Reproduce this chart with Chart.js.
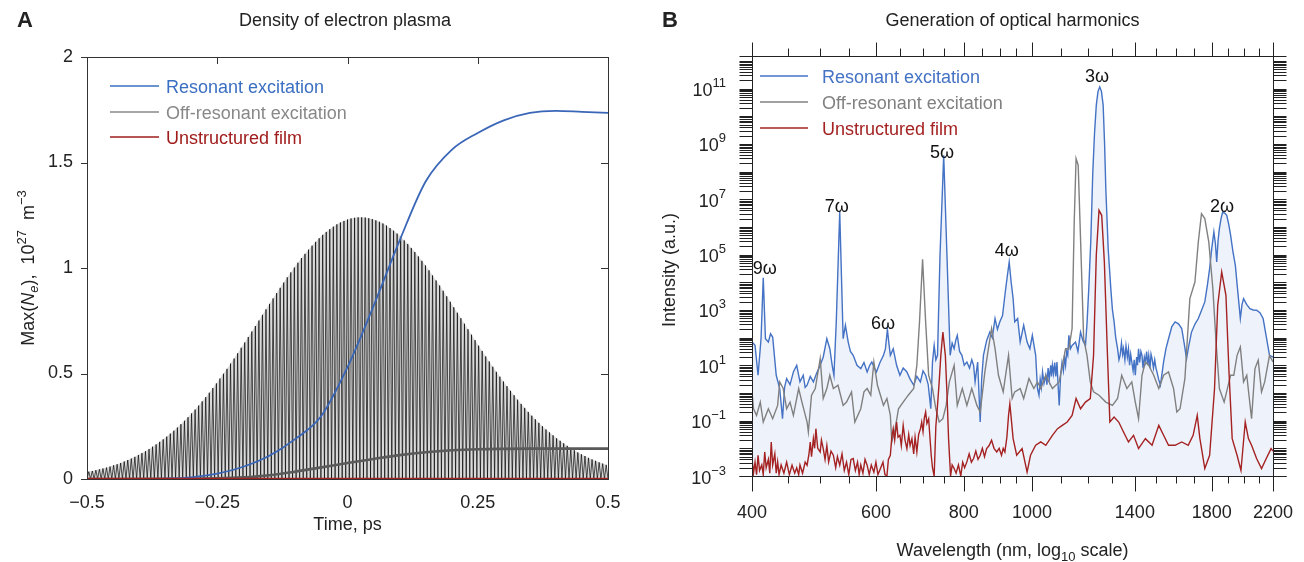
<!DOCTYPE html>
<html><head><meta charset="utf-8">
<script src="https://cdn.jsdelivr.net/npm/chart.js@4.4.0/dist/chart.umd.min.js"></script>
<style>
html,body{margin:0;padding:0;background:#fff;width:1304px;height:562px;overflow:hidden}
#wa{position:absolute;left:0;top:0;width:650px;height:562px}
#wb{position:absolute;left:650px;top:0;width:654px;height:562px}
</style></head><body>
<div id="wa"><canvas id="ca"></canvas></div>
<div id="wb"><canvas id="cb"></canvas></div>
<script>
// ---------------- Panel A data (time in ps, density in 1e27 m^-3) ----------------
const resonantT = [-0.5,-0.4,-0.35,-0.3,-0.25,-0.2,-0.15,-0.1,-0.05,0,0.05,0.1,0.15,0.2,0.25,0.3,0.35,0.4,0.45,0.5];
const resonantN = [0,0,0.002,0.008,0.025,0.058,0.11,0.19,0.3,0.53,0.82,1.13,1.41,1.56,1.64,1.7,1.735,1.745,1.74,1.735];
const offResT = [-0.5,-0.3,-0.25,-0.2,-0.15,-0.1,-0.05,0,0.05,0.1,0.15,0.2,0.25,0.3,0.35,0.5];
const offResN = [0,0.001,0.003,0.008,0.018,0.035,0.055,0.076,0.095,0.113,0.127,0.136,0.141,0.143,0.144,0.144];
const filmT = [-0.5,0.5];
const filmN = [0,0];
// laser-pulse oscillation: height of each of the 147 peaks between -0.5 and 0.5 ps
const pulseRange = [-0.5, 0.5];
const pulsePeaks = [0.035,0.038,0.042,0.046,0.050,0.054,0.059,0.065,0.070,0.076,
0.083,0.090,0.097,0.105,0.114,0.123,0.132,0.142,0.153,0.164,
0.176,0.188,0.201,0.215,0.229,0.244,0.260,0.276,0.293,0.311,
0.329,0.348,0.368,0.388,0.409,0.431,0.453,0.476,0.499,0.522,
0.547,0.571,0.596,0.622,0.647,0.673,0.699,0.725,0.751,0.778,
0.804,0.830,0.856,0.881,0.906,0.931,0.956,0.979,1.002,1.025,
1.047,1.067,1.087,1.106,1.124,1.141,1.157,1.171,1.184,1.196,
1.207,1.216,1.223,1.230,1.235,1.238,1.240,1.240,1.239,1.236,
1.232,1.226,1.219,1.211,1.201,1.189,1.177,1.163,1.148,1.131,
1.114,1.095,1.076,1.055,1.034,1.012,0.989,0.965,0.941,0.917,
0.892,0.866,0.840,0.814,0.788,0.762,0.736,0.710,0.684,0.658,
0.632,0.607,0.581,0.557,0.532,0.508,0.485,0.462,0.440,0.418,
0.397,0.376,0.356,0.337,0.318,0.300,0.283,0.266,0.250,0.235,
0.221,0.207,0.193,0.181,0.169,0.157,0.146,0.136,0.126,0.117,
0.109,0.100,0.093,0.086,0.079,0.073,0.067];
const timeTicks = [-0.5,-0.25,0,0.25,0.5];
const densityTicks = [0,0.5,1,1.5,2];

// ---------------- Panel B data (wavelength nm, log10 of intensity a.u.) ----------------
const resonantWl = [400,404,408,412,415,418,422,425,428,433,438,442,445,448,453,458,463,468,473,476,
479,484,489,494,500,505,511,516,520,523,527,533,539,543,548,552,557,564,571,577,
583,588,592,597,601,608,615,619,623,626,629,635,642,649,656,664,671,679,686,694,
700,706,712,718,722,726,730,734,740,749,757,765,770,775,779,783,789,795,801,808,
815,821,826,830,837,844,848,853,862,871,878,886,893,900,908,915,922,928,934,940,
945,954,962,973,984,993,1001,1012,1018,1023,1027,1031,1035,1040,1046,1050,1054,1058,1063,1066,
1069,1073,1077,1081,1085,1089,1093,1098,1103,1108,1112,1116,1120,1124,1128,1134,1140,1153,1162,1172,
1181,1191,1197,1204,1212,1220,1227,1234,1241,1248,1255,1262,1268,1273,1283,1294,1301,1308,1315,1323,
1329,1334,1340,1345,1349,1355,1360,1366,1371,1376,1381,1386,1392,1397,1402,1408,1412,1417,1422,1428,
1433,1438,1444,1449,1455,1460,1465,1471,1476,1481,1488,1494,1500,1505,1513,1522,1530,1538,1550,1563,
1580,1597,1615,1632,1645,1658,1670,1685,1705,1723,1742,1760,1775,1788,1800,1813,1822,1830,1838,1846,
1856,1866,1878,1891,1903,1915,1930,1945,1960,1977,1988,1998,2018,2040,2062,2085,2108,2130,2150,2175,2200];
const resonantLog = [1.84,1.72,0.64,1.96,4.16,1.96,1.84,2.14,2.02,0.64,0.16,-0.93,0.2,0.52,0.3,0.76,1.0,0.4,0.64,0.2,
0.28,0.6,0.4,0.7,1.0,1.3,1.96,1.6,1.0,0.64,2.57,6.54,1.96,2.45,1.84,1.5,1.36,1.0,0.88,1.1,
0.76,1.0,1.12,0.9,0.76,1.1,1.36,1.6,2.3,1.8,1.36,1.6,1.0,0.64,0.9,0.76,0.5,0.28,0.6,0.4,
0.8,0.64,0.3,-0.57,1.12,1.72,1.2,1.36,4.98,8.59,4.98,1.36,1.8,1.6,1.9,2.08,1.5,1.36,1.0,1.12,
0.9,1.2,1.0,0.4,1.12,-1.05,0.5,1.36,1.9,2.2,2.0,2.69,2.3,2.57,2.8,3.53,4.2,4.73,4.0,3.41,
2.57,2.69,1.84,2.45,1.84,1.6,2.08,1.36,0.16,-0.08,0.5,0.2,0.76,0.35,0.64,0.3,0.9,0.5,1.0,0.6,
1.0,0.7,1.1,0.6,1.12,0.3,-0.45,0.64,1.1,0.8,1.3,1.0,1.5,1.36,2.08,1.6,1.72,1.84,1.5,2.2,
1.9,1.72,2.5,3.77,5.5,7.99,9.4,10.4,10.9,11.06,10.9,10.4,9.0,7.39,5.2,3.77,3.0,2.57,2.0,1.6,
1.2,1.36,1.8,1.4,1.6,1.2,1.7,1.3,1.6,1.0,1.4,1.12,0.8,1.2,0.64,1.3,1.0,1.6,1.1,1.5,
1.36,0.9,1.3,1.12,1.5,1.0,1.36,0.9,1.4,1.24,0.9,1.2,0.9,0.76,0.5,0.28,0.7,1.12,1.6,1.96,
2.4,2.57,2.5,2.33,1.8,1.24,1.7,2.2,2.5,2.69,3.0,3.29,3.9,4.49,5.2,5.82,5.4,4.73,5.5,5.94,
6.3,6.54,6.5,6.42,6.1,5.7,5.1,4.61,3.7,2.69,3.2,3.41,3.2,3.05,3.0,2.99,2.9,2.69,2.1,1.36,1.3];
const offResWl = [400,402,406,411,415,422,428,435,438,443,448,453,458,466,471,479,481,486,492,500,
505,511,516,522,530,539,545,554,560,571,577,583,590,596,603,609,615,622,629,632,
639,646,656,667,679,686,692,699,706,713,722,730,738,747,755,763,775,783,796,808,
821,835,844,857,867,876,886,896,910,920,
926,937,945,962,973,990,1006,1018,1029,1046,1069,1093,1116,1128,1140,1148,1155,1163,1172,1184,
1197,1210,1223,1245,1273,1301,1323,1341,1364,1386,1402,1417,1433,1449,1465,1489,1514,1538,1563,1589,
1606,1623,1649,1676,1704,1723,1741,1760,1783,1807,1826,1846,1875,1895,1915,1935,1956,1977,1998,2019,
2051,2074,2096,2119,2141,2175,2200];
const offResLog = [0.04,-0.57,-0.81,-0.33,-1.05,-0.57,-0.93,-0.45,0.4,0.16,-0.57,-0.33,-0.81,0.16,-0.33,-1.05,-1.41,-0.08,0.16,1.24,
-0.2,0.16,0.64,0.16,0.28,-0.45,-0.33,0.04,-1.05,-0.57,0.04,0.16,-0.08,1.12,0.28,-0.08,-0.45,-0.2,-0.81,-1.77,
-1.29,-0.57,-0.33,-0.08,0.16,1.0,2.57,4.83,2.57,0.64,0.16,-0.57,-1.05,-0.93,-0.45,0.4,1.0,-0.45,0.16,-0.45,
0.16,-0.45,-0.69,0.76,1.6,2.33,1.6,0.64,0.04,0.88,
1.36,-0.2,0.04,0.16,-0.2,0.52,0.16,0.4,0.16,0.64,0.16,0.4,1.6,1.6,2.33,6.18,8.47,8.23,5.58,1.96,
1.36,0.4,0.04,-0.08,-0.33,-0.45,-0.2,0.64,0.16,0.4,-0.33,-0.93,0.64,1.12,1.0,0.64,0.16,0.64,0.76,0.16,
-0.69,-0.57,0.52,3.41,4.01,5.46,6.48,6.3,5.46,3.77,1.84,0.16,-0.33,0.16,0.64,0.64,1.36,1.66,0.4,0.64,
-0.93,0.88,1.18,0.04,0.4,1.36,1.12];
const filmWl = [400,402,404,406,408,410,413,415,417,419,422,424,426,428,431,433,435,437,440,444,
448,452,456,460,463,466,468,472,476,479,482,484,486,489,491,493,496,500,502,505,
508,511,514,518,522,526,529,533,537,541,545,549,553,557,561,565,568,571,575,579,
583,587,591,596,600,604,609,614,618,622,625,629,632,635,638,642,645,649,652,656,
660,664,668,671,675,679,682,686,690,694,697,700,703,706,709,713,716,719,722,726,
730,734,738,742,747,753,757,761,766,770,775,780,786,792,797,802,808,814,820,826,
832,838,844,850,856,862,869,876,883,891,898,905,910,915,921,926,
930,940,951,968,984,995,1012,1029,1046,1069,1087,1104,1122,1140,1155,1172,1191,1210,1223,1234,
1245,1256,1267,1280,1290,1308,1328,1349,1371,1394,1417,1449,1481,1514,1538,1563,1597,1632,1667,1694,
1717,1732,1760,1788,1817,1836,1860,1886,1905,1925,1956,1981,2009,2030,2051,2085,2119,2152,2186,2200];
const filmLog = [-2.37,-2.9,-2.5,-2.95,-2.25,-2.8,-2.6,-2.95,-2.13,-2.7,-2.4,-2.9,-1.77,-2.6,-2.2,-2.9,-2.49,-2.95,-2.6,-2.9,
-2.5,-2.95,-2.61,-2.9,-2.7,-2.95,-2.6,-2.9,-2.5,-2.61,-2.2,-1.77,-2.3,-1.65,-2.0,-1.29,-2.0,-2.13,-1.7,-2.01,
-2.4,-1.9,-2.49,-2.1,-2.25,-2.7,-2.3,-2.61,-2.2,-2.8,-2.5,-2.95,-2.4,-2.37,-2.8,-2.5,-2.95,-2.6,-2.9,-2.4,
-2.61,-2.95,-2.6,-2.86,-2.5,-2.95,-2.73,-2.5,-2.95,-3,-2.4,-2.25,-1.6,-1.29,-1.7,-1.05,-1.6,-1.53,-1.9,-1.17,
-1.7,-2.01,-1.5,-1.9,-1.65,-2.2,-1.6,-2.13,-1.5,-1.3,-1.05,-1.4,-0.9,-0.69,-1.1,-0.93,-1.6,-2.25,-2.7,-3,
-1.2,-0.45,0.4,1.36,2.2,1.36,0,-1.65,-3,-2.6,-2.73,-2.9,-2.6,-3,-2.5,-2.7,-2.49,-2.2,-2.5,-2.37,
-2.1,-2.4,-2.25,-2.0,-2.3,-2.01,-1.9,-1.71,-2.0,-2.13,-2.0,-2.25,-2.0,-2.13,-1.6,-0.81,
-0.39,-1.65,-2.25,-2.01,-2.86,-2.25,-1.89,-1.77,-1.89,-1.53,-1.29,-1.17,-1.05,-0.81,-0.2,-0.57,-0.33,-0.2,1.36,4.98,
6.6,6.42,4.73,1.36,-1.05,-0.87,-1.05,-1.41,-1.77,-1.53,-2.01,-1.65,-1.89,-1.17,-1.53,-1.89,-1.89,-1.77,-1.89,-1.53,
-0.81,-1.65,-2.73,-2.25,0.16,3.17,4.37,3.53,0.76,-1.65,-2.25,-2.8,-1.05,-1.65,-1.89,-2.37,-2.73,-2.37,-2.01,-2.1];
const wlTickLabels = [400,600,800,1000,1400,1800,2200];
const wlMinorTicks = [450,500,550,650,700,750,850,900,950,1100,1200,1300,1500,1600,1700,1900,2000,2100];
const intensityLabelExps = [-3,-1,1,3,5,7,9,11];
const intensityRange = [1e-3, 1.5e12];
const harmonicNames = ['9\u03c9','7\u03c9','6\u03c9','5\u03c9','4\u03c9','3\u03c9','2\u03c9'];
const harmonicWl = [417,528,614,745,921,1237,1862];
const harmonicLog = [4.52,6.79,2.53,8.71,5.17,11.46,6.76];

// ---------------- helpers ----------------
const FONT = '"Liberation Sans", Arial, Helvetica, sans-serif';
Chart.defaults.font.family = FONT;
Chart.defaults.color = '#222';
const C_BLUE = '#4472c4', C_GRAY = '#808080', C_RED = '#a52222';
const toXY = (xs, ys) => xs.map((v, i) => ({x: v, y: ys[i]}));
const toXYlog = (xs, ls) => xs.map((v, i) => ({x: v, y: Math.pow(10, ls[i])}));
const minus = s => String(s).replace('-', '\u2212');
const fontStr = p => `${p.it ? 'italic ' : ''}${p.b ? 'bold ' : ''}${p.s || 18}px ${FONT}`;
function rich(ctx, parts, x, y, align, rot) {
  ctx.save(); ctx.translate(x, y); if (rot) ctx.rotate(rot);
  let w = 0;
  parts.forEach(p => { ctx.font = fontStr(p); p.w = ctx.measureText(p.t).width; w += p.w; });
  let cx = align === 'center' ? -w / 2 : (align === 'right' ? -w : 0);
  ctx.textAlign = 'left'; ctx.textBaseline = 'alphabetic';
  parts.forEach(p => { ctx.font = fontStr(p); ctx.fillStyle = p.c || '#222'; ctx.fillText(p.t, cx, 6.5 + (p.dy || 0)); cx += p.w; });
  ctx.restore();
}
function seg(ctx, x1, y1, x2, y2) { ctx.beginPath(); ctx.moveTo(x1, y1); ctx.lineTo(x2, y2); ctx.stroke(); }
const px = v => Math.round(v) + 0.5;

// pulse trace: trough, peak, trough ... and its envelope (peaks only) as a light shade
const pulseStep = (pulseRange[1] - pulseRange[0]) / pulsePeaks.length;
const pulseData = [];
const pulseShade = [{x: pulseRange[0], y: 0}];
pulsePeaks.forEach((h, i) => {
  pulseData.push({x: pulseRange[0] + i * pulseStep, y: 0});
  pulseData.push({x: pulseRange[0] + (i + 0.5) * pulseStep, y: h});
  pulseShade.push({x: pulseRange[0] + (i + 0.5) * pulseStep, y: h});
});
pulseData.push({x: pulseRange[1], y: 0});
pulseShade.push({x: pulseRange[1], y: 0});

// ---------------- Panel A ----------------
const plugA = {
  id: 'decorA',
  afterDatasetsDraw(chart) {
    const {ctx, chartArea: a, scales: {x, y}} = chart;
    ctx.save();
    ctx.strokeStyle = '#333'; ctx.lineWidth = 1;
    ctx.strokeRect(px(a.left), px(a.top), Math.round(a.right - a.left), Math.round(a.bottom - a.top));
    timeTicks.slice(1, -1).forEach(v => { const X = px(x.getPixelForValue(v)); seg(ctx, X, a.top, X, a.top + 7); });
    densityTicks.forEach(v => {
      const Y = px(y.getPixelForValue(v));
      seg(ctx, a.left, Y, a.left - 6, Y);
      if (v > 0 && v < 2) seg(ctx, a.right, Y, a.right - 7, Y);
    });
    rich(ctx, [{t: 'A', b: true, s: 22}], 25, 20, 'center');
    rich(ctx, [{t: 'Density of electron plasma'}], 345, 19, 'center');
    rich(ctx, [{t: 'Time, ps'}], (a.left + a.right) / 2, 523, 'center');
    rich(ctx, [{t: 'Max('}, {t: 'N', it: true}, {t: 'e', it: true, s: 13, dy: 4}, {t: '),  10'},
               {t: '27', s: 13, dy: -8}, {t: '  m'}, {t: '\u22123', s: 13, dy: -8}], 27, 268, 'center', -Math.PI / 2);
    const leg = [['Resonant excitation', '#3b6fc2', 86], ['Off-resonant excitation', '#888888', 112], ['Unstructured film', '#a01c1c', 137]];
    leg.forEach(([t, c, yy]) => {
      ctx.strokeStyle = c; ctx.lineWidth = 1.5; seg(ctx, 110, yy, 159, yy);
      rich(ctx, [{t, c}], 166, yy, 'left');
    });
    ctx.restore();
  }
};
new Chart(document.getElementById('ca'), {
  type: 'line',
  data: {datasets: [
    {label: 'Unstructured film', data: toXY(filmT, filmN), borderColor: C_RED, borderWidth: 2.5, pointRadius: 0, order: 1},
    {label: 'Resonant excitation', data: toXY(resonantT, resonantN), borderColor: '#3a66b8', borderWidth: 1.8, pointRadius: 0, order: 2, cubicInterpolationMode: 'monotone'},
    {label: 'Off-resonant excitation', data: toXY(offResT, offResN), borderColor: '#5a5a5a', borderWidth: 2.6, pointRadius: 0, order: 3, cubicInterpolationMode: 'monotone'},
    {label: 'Laser pulse', data: pulseData, borderColor: 'rgba(0,0,0,0.85)', borderWidth: 0.8, pointRadius: 0, order: 4},
    {label: 'Laser pulse shade', data: pulseShade, borderWidth: 0, borderColor: 'rgba(0,0,0,0)', pointRadius: 0, order: 5,
     fill: 'origin', backgroundColor: 'rgba(150,150,150,0.35)'}
  ]},
  options: {
    responsive: true, maintainAspectRatio: false, animation: false, events: [],
    layout: {padding: {left: 0, right: 42, top: 57, bottom: 0}, autoPadding: false},
    plugins: {legend: {display: false}, tooltip: {enabled: false}},
    scales: {
      x: {type: 'linear', min: -0.5, max: 0.5, grid: {display: false, drawTicks: false}, border: {display: false},
          afterBuildTicks: s => { s.ticks = timeTicks.map(v => ({value: v})); },
          ticks: {padding: 13, font: {size: 18}, color: '#222', maxRotation: 0, autoSkip: false, callback: v => minus(v)},
          afterFit: s => { s.height = 83; }},
      y: {type: 'linear', min: 0, max: 2, grid: {display: false, drawTicks: false}, border: {display: false},
          afterBuildTicks: s => { s.ticks = densityTicks.map(v => ({value: v})); },
          ticks: {padding: 14, font: {size: 18}, color: '#222', callback: v => String(v)},
          afterFit: s => { s.width = 87; }}
    }
  },
  plugins: [plugA]
});

// ---------------- Panel B ----------------
const plugB = {
  id: 'decorB',
  afterDatasetsDraw(chart) {
    const {ctx, chartArea: a, scales: {x, y}} = chart;
    ctx.save();
    ctx.strokeStyle = '#222'; ctx.lineWidth = 1;
    const ext = 13;
    const L = px(a.left), R = px(a.right), T = px(a.top), B = px(a.bottom);
    seg(ctx, L - ext, T, R + ext, T); seg(ctx, L - ext, B, R + ext, B);
    seg(ctx, L, T, L, B); seg(ctx, R, T, R, B);
    wlTickLabels.forEach(v => { const X = px(x.getPixelForValue(v)); seg(ctx, X, T, X, T - 14); seg(ctx, X, B, X, B + 15); });
    wlMinorTicks.forEach(v => { const X = px(x.getPixelForValue(v)); seg(ctx, X, T, X, T - 8); seg(ctx, X, B, X, B + 7); });
    for (let d = -3; d <= 12; d++) {
      for (let k = 1; k <= 9; k++) {
        const v = k * Math.pow(10, d);
        if (v < intensityRange[0] * 0.999 || v > intensityRange[1]) continue;
        const Y = px(y.getPixelForValue(v));
        seg(ctx, L, Y, L - ext, Y); seg(ctx, R, Y, R + ext, Y);
      }
    }
    intensityLabelExps.forEach(e => {
      const Y = y.getPixelForValue(Math.pow(10, e));
      rich(ctx, [{t: '10'}, {t: minus(e), s: 13, dy: -9}], 76, Y + 1, 'right');
    });
    harmonicNames.forEach((n, i) => {
      rich(ctx, [{t: n, c: '#111'}], x.getPixelForValue(harmonicWl[i]), y.getPixelForValue(Math.pow(10, harmonicLog[i])), 'center');
    });
    rich(ctx, [{t: 'B', b: true, s: 22}], 20, 20, 'center');
    rich(ctx, [{t: 'Generation of optical harmonics'}], (a.left + a.right) / 2, 19, 'center');
    rich(ctx, [{t: 'Wavelength (nm, log'}, {t: '10', s: 13, dy: 5}, {t: ' scale)'}], (a.left + a.right) / 2, 549, 'center');
    rich(ctx, [{t: 'Intensity (a.u.)'}], 18, 270, 'center', -Math.PI / 2);
    const leg = [['Resonant excitation', C_BLUE, 76], ['Off-resonant excitation', C_GRAY, 102], ['Unstructured film', C_RED, 128]];
    leg.forEach(([t, c, yy]) => {
      ctx.strokeStyle = c; ctx.lineWidth = 1.5; seg(ctx, 110, yy, 158, yy);
      rich(ctx, [{t, c}], 172, yy, 'left');
    });
    ctx.restore();
  }
};
new Chart(document.getElementById('cb'), {
  type: 'line',
  data: {datasets: [
    {label: 'Unstructured film', data: toXYlog(filmWl, filmLog), borderColor: C_RED, borderWidth: 1.4, pointRadius: 0, order: 1},
    {label: 'Off-resonant excitation', data: toXYlog(offResWl, offResLog), borderColor: C_GRAY, borderWidth: 1.4, pointRadius: 0, order: 2},
    {label: 'Resonant excitation', data: toXYlog(resonantWl, resonantLog), borderColor: C_BLUE, borderWidth: 1.4, pointRadius: 0, order: 3,
     fill: 'start', backgroundColor: 'rgba(68,114,196,0.09)'}
  ]},
  options: {
    responsive: true, maintainAspectRatio: false, animation: false, events: [],
    layout: {padding: {left: 0, right: 31, top: 56, bottom: 0}, autoPadding: false},
    plugins: {legend: {display: false}, tooltip: {enabled: false}},
    scales: {
      x: {type: 'logarithmic', min: 400, max: 2200,
          grid: {display: true, drawOnChartArea: false, drawTicks: true, tickLength: 26, color: 'rgba(0,0,0,0)'}, border: {display: false},
          afterBuildTicks: s => { s.ticks = wlTickLabels.map(v => ({value: v})); },
          ticks: {padding: 0, font: {size: 18}, color: '#222', maxRotation: 0, autoSkip: false, callback: v => String(v)},
          afterFit: s => { s.height = 86; }},
      y: {type: 'logarithmic', min: intensityRange[0], max: intensityRange[1], grid: {display: false, drawTicks: false}, border: {display: false},
          ticks: {display: false},
          afterFit: s => { s.width = 102; }}
    }
  },
  plugins: [plugB]
});
</script>
</body></html>
